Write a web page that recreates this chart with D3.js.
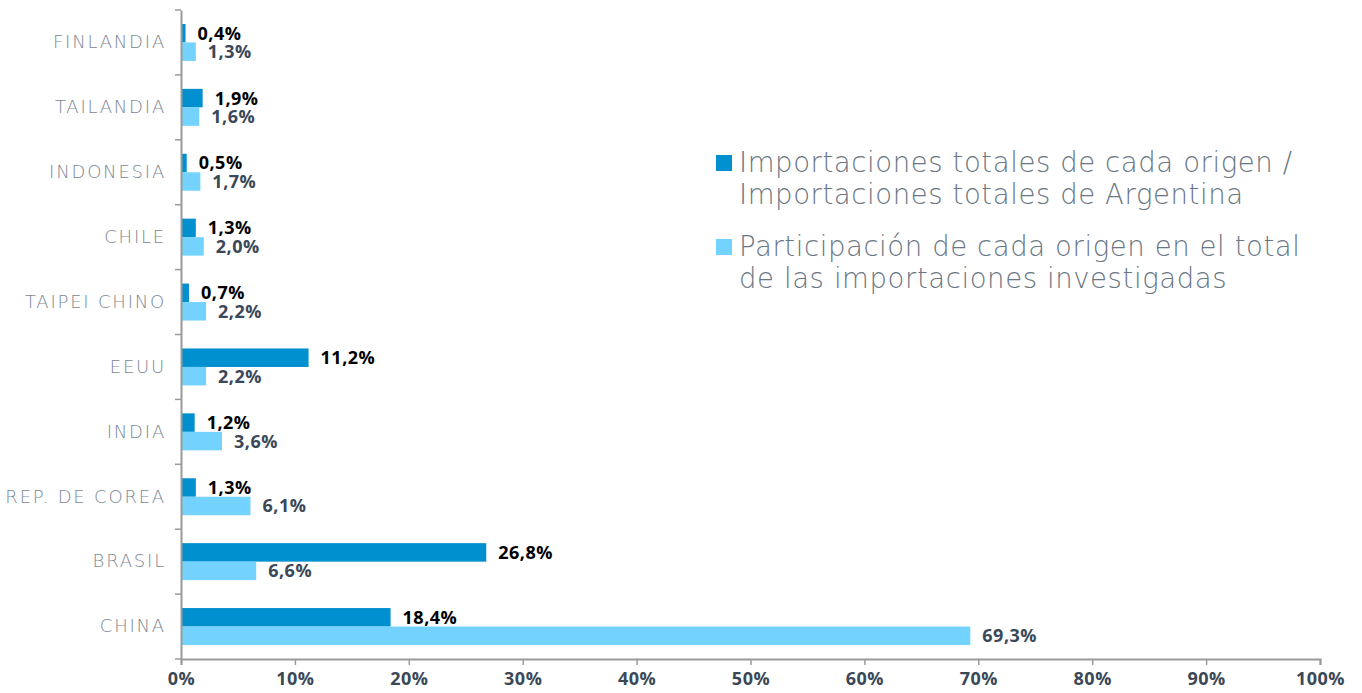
<!DOCTYPE html>
<html>
<head>
<meta charset="utf-8">
<script src="https://cdn.jsdelivr.net/npm/d3@7"></script>
<style>
  body { margin: 0; background: #fff; }
  svg { display: block; font-family: "Open Sans", "Lato", sans-serif; }
</style>
</head>
<body>
<script>
// categories (top to bottom)
var paises = ["FINLANDIA", "TAILANDIA", "INDONESIA", "CHILE", "TAIPEI CHINO", "EEUU", "INDIA", "REP. DE COREA", "BRASIL", "CHINA"];
// Importaciones totales de cada origen / Importaciones totales de Argentina
var totales = [0.4, 1.9, 0.5, 1.3, 0.7, 11.2, 1.2, 1.3, 26.8, 18.4];
// Participación de cada origen en el total de las importaciones investigadas
var participacion = [1.3, 1.6, 1.7, 2.0, 2.2, 2.2, 3.6, 6.1, 6.6, 69.3];
var ticks = [0, 10, 20, 30, 40, 50, 60, 70, 80, 90, 100];
var leyenda = [
  ["Importaciones totales de cada origen /", "Importaciones totales de Argentina"],
  ["Participación de cada origen en el total", "de las importaciones investigadas"]
];

var width = 1362, height = 693;
var margin = {left: 181, right: 42, top: 10, bottom: 34};
var colores = ["#008fcf", "#73d3fe"];
var fuenteFina = "'DejaVu Sans', sans-serif";

var svg = d3.select("body").append("svg").attr("width", width).attr("height", height);

var x = d3.scaleLinear().domain([0, 100]).range([margin.left, width - margin.right]);
var y = d3.scaleBand().domain(paises).range([margin.top, height - margin.bottom]).paddingInner(0.43).paddingOuter(0.215);
var sub = d3.scaleBand().domain([0, 1]).range([0, y.bandwidth()]);

//rows
var fila = svg.selectAll("g.fila").data(paises).enter().append("g")
  .attr("class", "fila")
  .attr("transform", function (d) { return "translate(0," + y(d) + ")"; });

var series = [totales, participacion];
series.forEach(function (serie, s) {
  fila.append("rect")
    .attr("x", x(0))
    .attr("y", sub(s))
    .attr("width", function (d, i) { return x(serie[i]) - x(0); })
    .attr("height", sub.bandwidth())
    .attr("fill", colores[s]);
  fila.append("text")
    .attr("x", function (d, i) { return x(serie[i]) + 12; })
    .attr("y", sub(s) + sub.bandwidth() / 2)
    .attr("dy", "0.36em")
    .attr("font-size", 18)
    .attr("font-weight", 700)
    .attr("letter-spacing", 0.5)
    .attr("fill", s == 0 ? "#000" : "#3a4858")
    .text(function (d, i) { return d3.format(".1f")(serie[i]).replace(".", ",") + "%"; });
});

//x axis
var xAxis = d3.axisBottom(x).tickValues(ticks).tickSize(6).tickFormat(function (d) { return d + "%"; });
var gx = svg.append("g").attr("transform", "translate(0," + (height - margin.bottom) + ")").call(xAxis);
gx.select(".domain").attr("stroke", "#9a9a9a").attr("stroke-width", 2);
gx.selectAll(".tick line").attr("stroke", "#9a9a9a").attr("stroke-width", 1.5);
gx.selectAll(".tick text").attr("font-size", 18).attr("font-weight", 700).attr("fill", "#3a4858").attr("dy", "0.95em")
  .attr("letter-spacing", 0.5).attr("font-family", "'Open Sans', sans-serif");

//y axis
var yAxis = d3.axisLeft(y).tickSize(0).tickPadding(15);
var gy = svg.append("g").attr("transform", "translate(" + x(0) + ",0)").call(yAxis);
gy.select(".domain").attr("stroke", "#9a9a9a").attr("stroke-width", 2);
gy.selectAll(".tick text").attr("font-size", 18).attr("font-weight", 200).attr("fill", "#7c8794")
  .attr("letter-spacing", 1.8).attr("font-family", fuenteFina);
// separators between categories
var bordes = paises.map(function (d) { return y(d) - y.step() * y.paddingInner() / 2; });
bordes.push(height - margin.bottom);
gy.selectAll("line.sep").data(bordes).enter().append("line")
  .attr("class", "sep").attr("x1", -6).attr("x2", 0)
  .attr("y1", function (d) { return d; }).attr("y2", function (d) { return d; })
  .attr("stroke", "#9a9a9a").attr("stroke-width", 1.5);

//legend
var leg = svg.append("g").attr("transform", "translate(716,155)");
leyenda.forEach(function (l, i) {
  var g = leg.append("g").attr("transform", "translate(0," + (i * 84) + ")");
  g.append("rect").attr("width", 16).attr("height", 16).attr("fill", colores[i]);
  l.forEach(function (t, j) {
    g.append("text").attr("x", 23).attr("y", 17 + j * 32)
      .attr("font-size", 27.5).attr("font-weight", 200).attr("fill", "#6a7683")
      .attr("letter-spacing", 0.6).attr("font-family", fuenteFina)
      .text(t);
  });
});
</script>
</body>
</html>
